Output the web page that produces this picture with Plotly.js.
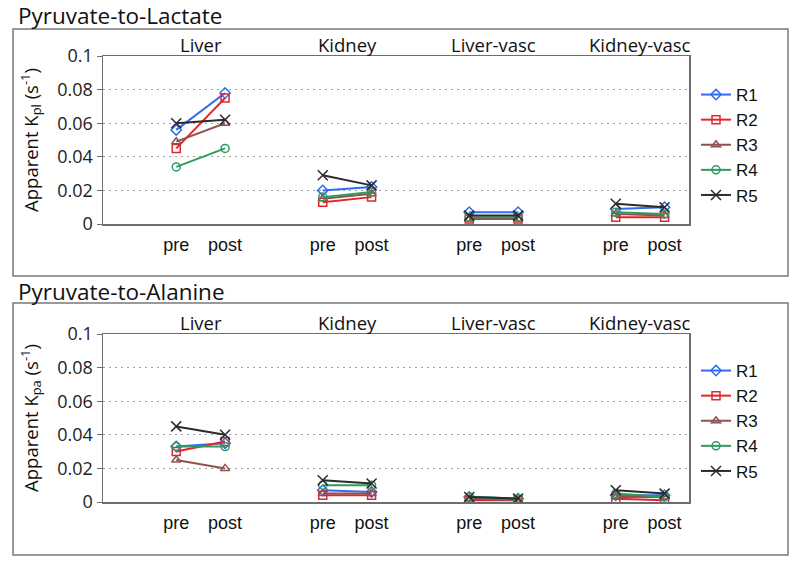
<!DOCTYPE html>
<html>
<head>
<meta charset="utf-8">
<script src="https://cdn.plot.ly/plotly-3.0.1.min.js"></script>
<style>html,body{margin:0;padding:0;background:#fff;}#chart{width:800px;height:566px;}</style>
</head>
<body>
<div id="chart"></div>
<script>
// ---- data ----
const groups = ["Liver", "Kidney", "Liver-vasc", "Kidney-vasc"];
const phases = ["pre", "post"];
const seriesNames = ["R1", "R2", "R3", "R4", "R5"];
// values listed as [pre, post] for Liver, Kidney, Liver-vasc, Kidney-vasc
const lactateR1 = [0.056, 0.078, 0.020, 0.022, 0.007, 0.007, 0.009, 0.010];
const lactateR2 = [0.045, 0.075, 0.013, 0.016, 0.003, 0.003, 0.004, 0.004];
const lactateR3 = [0.049, 0.060, 0.015, 0.018, 0.003, 0.003, 0.006, 0.005];
const lactateR4 = [0.034, 0.045, 0.016, 0.019, 0.004, 0.004, 0.007, 0.006];
const lactateR5 = [0.060, 0.062, 0.029, 0.023, 0.005, 0.005, 0.012, 0.010];
const alanineR1 = [0.033, 0.035, 0.007, 0.006, 0.003, 0.002, 0.004, 0.004];
const alanineR2 = [0.030, 0.036, 0.004, 0.004, 0.001, 0.001, 0.002, 0.001];
const alanineR3 = [0.025, 0.020, 0.005, 0.005, 0.002, 0.001, 0.003, 0.003];
const alanineR4 = [0.033, 0.033, 0.010, 0.010, 0.003, 0.002, 0.005, 0.003];
const alanineR5 = [0.045, 0.040, 0.013, 0.011, 0.003, 0.002, 0.007, 0.005];
const lactateSeries = [lactateR1, lactateR2, lactateR3, lactateR4, lactateR5];
const alanineSeries = [alanineR1, alanineR2, alanineR3, alanineR4, alanineR5];

// ---- styles ----
const colors = ["#2f6cf2", "#e3262b", "#8e5252", "#2e9b5f", "#2b2b2b"];
const symbols = ["diamond-open", "square-open", "triangle-up-open", "circle-open", "x-thin-open"];

// category slots: gap, pre, post for each group
const slots = [];
groups.forEach(g => { slots.push(g + " |gap"); phases.forEach(p => slots.push(g + " |" + p)); });
const tickSlots = [], tickText = [];
groups.forEach(g => phases.forEach(p => { tickSlots.push(g + " |" + p); tickText.push(p); }));

function makeTraces(seriesArr, xa, ya, legendName, show) {
  return seriesArr.map((vals, i) => {
    const x = [], y = [];
    groups.forEach((g, gi) => {
      x.push(g + " |gap"); y.push(null);
      phases.forEach((p, pi) => { x.push(g + " |" + p); y.push(vals[gi * 2 + pi]); });
    });
    return {
      type: "scatter", mode: "lines+markers", name: seriesNames[i], x: x, y: y,
      xaxis: xa, yaxis: ya, legend: legendName, showlegend: show, connectgaps: false,
      line: {color: colors[i], width: 2},
      marker: {symbol: symbols[i], size: i === 4 ? 10 : 8, color: colors[i], line: {color: colors[i], width: 1.5}}
    };
  });
}

const traces = makeTraces(lactateSeries, "x", "y", "legend", true)
  .concat(makeTraces(alanineSeries, "x2", "y2", "legend2", true));

const W = 800, H = 566;
const px = v => v / W;
const py = v => 1 - v / H;

const baseFont = {family: "Open Sans, sans-serif", size: 17, color: "#222"};
function xAxis(domain, anchor) {
  return {
    domain: domain, anchor: anchor, type: "category", categoryorder: "array", categoryarray: slots,
    range: [-0.5, slots.length - 0.5], tickmode: "array", tickvals: tickSlots, ticktext: tickText,
    showgrid: false, showline: true, linecolor: "#6e6e6e", linewidth: 1.5, mirror: true,
    ticks: "outside", ticklen: 4, tickcolor: "rgba(0,0,0,0)",
    tickfont: {family: "Liberation Sans, Arial, sans-serif", size: 18, color: "#111"}, fixedrange: true
  };
}
function yAxis(domain, anchor, titleText) {
  return {
    domain: domain, anchor: anchor, range: [0, 0.1], tickvals: [0, 0.02, 0.04, 0.06, 0.08, 0.1],
    ticktext: ["0", "0.02", "0.04", "0.06", "0.08", "0.1"],
    showgrid: true, gridcolor: "#a0a0a0", griddash: "2px,4px", gridwidth: 1.3, zeroline: false,
    showline: true, linecolor: "#6e6e6e", linewidth: 1.5, mirror: true,
    ticks: "outside", ticklen: 5, tickcolor: "#6e6e6e",
    tickfont: {family: "Open Sans, sans-serif", size: 18, color: "#222"},
    title: {text: titleText, font: {family: "Open Sans, sans-serif", size: 18.5, color: "#111"}, standoff: 14},
    fixedrange: true
  };
}

const xDom = [px(103), px(689)];
const legFont = {family: "Liberation Sans, Arial, sans-serif", size: 17, color: "#111"};
const layout = {
  width: W, height: H, margin: {l: 0, r: 0, t: 0, b: 0},
  paper_bgcolor: "#fff", plot_bgcolor: "#fff", font: baseFont, showlegend: true,
  xaxis: xAxis(xDom, "y"),
  yaxis: yAxis([py(224), py(56)], "x", "Apparent K<sub>pl</sub> (s<sup>-1</sup>)"),
  xaxis2: xAxis(xDom, "y2"),
  yaxis2: yAxis([py(502), py(334)], "x2", "Apparent K<sub>pa</sub> (s<sup>-1</sup>)"),
  legend: {x: px(696), y: py(77), xanchor: "left", yanchor: "top", bgcolor: "rgba(0,0,0,0)",
    font: legFont, itemwidth: 30, tracegroupgap: 0},
  legend2: {x: px(696), y: py(353), xanchor: "left", yanchor: "top", bgcolor: "rgba(0,0,0,0)",
    font: legFont, itemwidth: 30, tracegroupgap: 0},
  shapes: [
    {type: "rect", xref: "paper", yref: "paper", x0: px(13), x1: px(788), y0: py(276), y1: py(29),
      line: {color: "#7a7a7a", width: 1.5}},
    {type: "rect", xref: "paper", yref: "paper", x0: px(13), x1: px(788), y0: py(555), y1: py(303),
      line: {color: "#7a7a7a", width: 1.5}}
  ],
  annotations: [
    {text: "Pyruvate-to-Lactate", xref: "paper", yref: "paper", x: px(16), y: py(16), xanchor: "left", yanchor: "middle",
      showarrow: false, font: {family: "Open Sans, sans-serif", size: 22.5, color: "#111"}},
    {text: "Pyruvate-to-Alanine", xref: "paper", yref: "paper", x: px(16), y: py(291), xanchor: "left", yanchor: "middle",
      showarrow: false, font: {family: "Open Sans, sans-serif", size: 22.5, color: "#111"}}
  ]
};
groups.forEach((g, gi) => {
  const idx = gi * 3 + 1.5;
  layout.annotations.push({text: g, xref: "x", yref: "paper", x: idx, y: py(44), yanchor: "middle",
    showarrow: false, font: {family: "Open Sans, sans-serif", size: 18.5, color: "#111"}});
  layout.annotations.push({text: g, xref: "x2", yref: "paper", x: idx, y: py(322), yanchor: "middle",
    showarrow: false, font: {family: "Open Sans, sans-serif", size: 18.5, color: "#111"}});
});

Plotly.newPlot("chart", traces, layout, {displayModeBar: false, staticPlot: true});
</script>
</body>
</html>
